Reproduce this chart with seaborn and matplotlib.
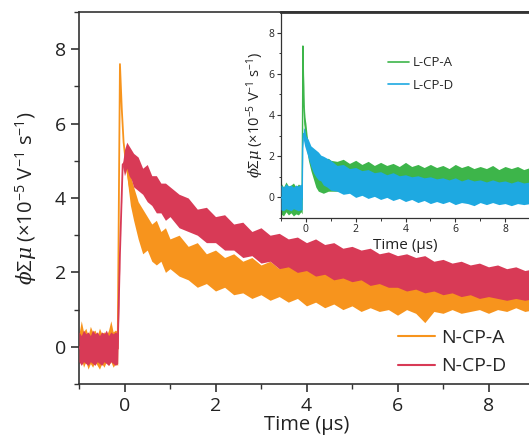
import matplotlib
matplotlib.use("Agg")
import matplotlib.pyplot as plt
import pandas as pd
import seaborn as sns
from matplotlib.ticker import MultipleLocator

# ---------------- data: upper / lower envelopes of the noisy traces ----
pre_t = [-1.00, -0.95, -0.90, -0.85, -0.80, -0.75, -0.70, -0.65, -0.60, -0.55, -0.50,
         -0.45, -0.40, -0.35, -0.30, -0.25, -0.20, -0.15]
tail_t = [0.20, 0.30, 0.40, 0.50, 0.60, 0.70, 0.80, 0.90, 1.00, 1.20, 1.40, 1.60, 1.80,
          2.00, 2.20, 2.40, 2.60, 2.80, 3.00, 3.20, 3.40, 3.60, 3.80, 4.00, 4.20, 4.40,
          4.60, 4.80, 5.00, 5.20, 5.40, 5.60, 5.80, 6.00, 6.20, 6.40, 6.60, 6.80, 7.00,
          7.20, 7.40, 7.60, 7.80, 8.00, 8.20, 8.40, 8.60, 8.80, 9.00]

# Main panel: N-CP-A (orange)
ncpa_t = pre_t + [-0.10, -0.06, -0.02, 0.03, 0.08, 0.13] + tail_t
ncpa_hi = [0.35, 0.70, 0.40, 0.50, 0.30, 0.55, 0.40, 0.45, 0.30, 0.50, 0.35, 0.40, 0.30,
           0.45, 0.70, 0.40, 0.45, 0.40,
           7.60, 6.40, 5.50, 5.10, 4.90, 4.60,
           4.30, 3.90, 3.70, 3.50, 3.30, 3.40, 3.10, 3.20, 2.90, 3.00, 2.70, 2.80, 2.50,
           2.60, 2.40, 2.50, 2.30, 2.40, 2.20, 2.30, 2.10, 2.25, 2.10, 2.15, 2.00, 2.10,
           1.95, 2.05, 1.90, 2.00, 1.85, 1.95, 1.85, 1.90, 1.80, 1.90, 1.80, 1.75, 1.85,
           1.70, 1.80, 1.70, 1.75, 1.65, 1.75, 1.60, 1.70, 1.60, 1.65]
ncpa_lo = [-0.45, -0.30, -0.55, -0.40, -0.60, -0.45, -0.55, -0.40, -0.50, -0.60, -0.45,
           -0.55, -0.40, -0.50, -0.40, -0.55, -0.45, -0.50,
           7.60, 6.40, 5.50, 4.80, 4.30, 3.80,
           3.40, 2.90, 2.50, 2.60, 2.30, 2.20, 2.30, 2.00, 2.10, 1.90, 1.80, 1.60, 1.70,
           1.50, 1.60, 1.40, 1.45, 1.30, 1.40, 1.25, 1.35, 1.20, 1.30, 1.10, 1.20, 1.05,
           1.15, 1.00, 1.10, 0.95, 1.05, 0.95, 1.00, 0.85, 1.00, 0.90, 0.65, 0.95, 0.90,
           1.00, 0.90, 0.95, 1.00, 0.90, 1.00, 0.95, 1.05, 0.95, 1.00]

# Main panel: N-CP-D (red)
ncpd_t = pre_t + [-0.10, -0.04, 0.00, 0.05, 0.10, 0.15] + tail_t
ncpd_hi = [0.40, 0.30, 0.45, 0.35, 0.40, 0.30, 0.45, 0.35, 0.40, 0.30, 0.40, 0.35, 0.45,
           0.30, 0.40, 0.35, 0.40, 0.35,
           2.50, 4.95, 5.30, 5.50, 5.40, 5.30,
           5.20, 5.10, 4.80, 4.90, 4.60, 4.60, 4.40, 4.40, 4.30, 4.10, 4.00, 3.70, 3.75,
           3.50, 3.55, 3.30, 3.35, 3.10, 3.20, 3.00, 3.05, 2.90, 2.95, 2.80, 2.90, 2.75,
           2.80, 2.65, 2.70, 2.60, 2.65, 2.50, 2.55, 2.45, 2.50, 2.40, 2.45, 2.30, 2.35,
           2.25, 2.30, 2.20, 2.25, 2.15, 2.20, 2.10, 2.15, 2.05, 2.10]
ncpd_lo = [-0.40, -0.50, -0.40, -0.45, -0.50, -0.40, -0.45, -0.50, -0.40, -0.45, -0.50,
           -0.40, -0.45, -0.50, -0.40, -0.45, -0.50, -0.45,
           2.50, 4.85, 4.60, 4.80, 4.60, 4.50,
           4.30, 4.20, 4.10, 3.90, 3.80, 3.60, 3.60, 3.40, 3.50, 3.20, 3.10, 3.00, 2.80,
           2.80, 2.60, 2.60, 2.40, 2.45, 2.25, 2.30, 2.10, 2.15, 2.00, 2.05, 1.90, 1.95,
           1.80, 1.85, 1.75, 1.80, 1.65, 1.70, 1.60, 1.60, 1.50, 1.55, 1.45, 1.50, 1.40,
           1.45, 1.35, 1.40, 1.30, 1.35, 1.30, 1.25, 1.30, 1.25, 1.30]

in_pre_t = [-1.00, -0.90, -0.80, -0.70, -0.60, -0.50, -0.40, -0.30, -0.20, -0.15]
in_tail_t = [1.00, 1.25, 1.50, 1.75, 2.00, 2.25, 2.50, 2.75, 3.00, 3.25, 3.50, 3.75,
             4.00, 4.25, 4.50, 4.75, 5.00, 5.25, 5.50, 5.75, 6.00, 6.25, 6.50, 6.75,
             7.00, 7.25, 7.50, 7.75, 8.00, 8.25, 8.50, 8.75, 9.00]

# Inset: L-CP-A (green)
lcpa_t = in_pre_t + [-0.12, -0.08, -0.04, 0.00, 0.05, 0.10, 0.20, 0.30, 0.40, 0.50,
                     0.70, 0.90] + in_tail_t
lcpa_hi = [0.70, 0.50, 0.75, 0.55, 0.60, 0.70, 0.50, 0.65, 0.55, 0.60,
           7.35, 5.00, 3.90, 3.60, 3.00, 2.60, 2.20, 2.00, 1.90, 1.85, 1.80, 1.90,
           1.80, 1.75, 1.85, 1.65, 1.80, 1.60, 1.75, 1.55, 1.70, 1.55, 1.65, 1.50,
           1.70, 1.50, 1.60, 1.45, 1.60, 1.45, 1.55, 1.40, 1.60, 1.45, 1.55, 1.40,
           1.50, 1.40, 1.55, 1.35, 1.50, 1.40, 1.50, 1.35, 1.45]
lcpa_lo = [-0.80, -0.90, -0.70, -0.85, -0.75, -0.90, -0.80, -0.85, -0.70, -0.80,
           7.35, 4.00, 3.20, 2.80, 2.20, 1.80, 1.30, 0.90, 0.50, 0.30, 0.20, 0.30,
           0.30, 0.30, 0.30, 0.30, 0.30, 0.30, 0.30, 0.30, 0.30, 0.30, 0.30, 0.30,
           0.30, 0.30, 0.30, 0.30, 0.30, 0.30, 0.30, 0.30, 0.30, 0.30, 0.30, 0.30,
           0.30, 0.30, 0.30, 0.30, 0.30, 0.30, 0.30, 0.30, 0.30]

# Inset: L-CP-D (blue)
lcpd_t = in_pre_t + [-0.13, -0.10, -0.05, 0.00, 0.10, 0.20, 0.30, 0.40, 0.50, 0.60,
                     0.70, 0.85] + in_tail_t
lcpd_hi = [0.60, 0.50, 0.65, 0.55, 0.60, 0.50, 0.60, 0.55, 0.65, 0.55,
           2.40, 3.40, 3.30, 3.00, 2.80, 2.50, 2.40, 2.30, 2.20, 2.05, 2.00, 1.90,
           1.80, 1.55, 1.60, 1.40, 1.45, 1.30, 1.35, 1.20, 1.25, 1.10, 1.20, 1.05,
           1.10, 1.00, 1.05, 0.95, 1.00, 0.90, 0.95, 0.85, 0.95, 0.80, 0.90, 0.80,
           0.85, 0.75, 0.85, 0.75, 0.80, 0.70, 0.80, 0.70, 0.75]
lcpd_lo = [-0.60, -0.65, -0.55, -0.60, -0.65, -0.55, -0.60, -0.65, -0.60, -0.60,
           2.40, 2.80, 2.50, 2.30, 1.90, 1.50, 1.20, 1.00, 0.85, 0.80, 0.60, 0.50,
           0.35, 0.30, 0.15, 0.20, 0.00, 0.10, -0.05, 0.05, -0.10, 0.00, -0.15, -0.05,
           -0.20, -0.10, -0.25, -0.15, -0.30, -0.20, -0.30, -0.20, -0.35, -0.25, -0.30,
           -0.40, -0.25, -0.35, -0.25, -0.35, -0.30, -0.40, -0.30, -0.35, -0.30]

main_names = ["N-CP-A", "N-CP-D"]
main_colors = ["#F7941D", "#D83A56"]
inset_names = ["L-CP-A", "L-CP-D"]
inset_colors = ["#3DB54A", "#1EA9E1"]
ylabel_txt = r"$\mathit{\phi\Sigma\mu}$ (×10$^{-5}$ V$^{-1}$ s$^{-1}$)"
xlabel_txt = "Time (μs)"


def band_frame(t, hi, lo, name):
    return pd.DataFrame({"t": list(t) + list(t), "v": list(hi) + list(lo), "series": name})


main_df = pd.concat([band_frame(ncpa_t, ncpa_hi, ncpa_lo, main_names[0]),
                     band_frame(ncpd_t, ncpd_hi, ncpd_lo, main_names[1])], ignore_index=True)
inset_df = pd.concat([band_frame(lcpa_t, lcpa_hi, lcpa_lo, inset_names[0]),
                      band_frame(lcpd_t, lcpd_hi, lcpd_lo, inset_names[1])], ignore_index=True)

# ---------------- style -------------
sns.set_style("ticks")
plt.rcParams["font.family"] = ["Open Sans", "DejaVu Sans"]
plt.rcParams["mathtext.fontset"] = "custom"
plt.rcParams["mathtext.rm"] = "Open Sans"
plt.rcParams["mathtext.it"] = "DejaVu Serif:italic"
plt.rcParams["axes.edgecolor"] = "#333333"
plt.rcParams["xtick.color"] = "#333333"
plt.rcParams["ytick.color"] = "#333333"

W, H = 529, 436
fig = plt.figure(figsize=(W / 100, H / 100), dpi=100)


def layer(axis):
    # keep each series' line and band together so later series cover earlier ones
    for i, (ln, coll) in enumerate(zip(axis.lines, axis.collections)):
        coll.set_zorder(1 + 2 * i)
        ln.set_zorder(2 + 2 * i)


def style_ticks(axis):
    axis.xaxis.set_major_locator(MultipleLocator(2))
    axis.xaxis.set_minor_locator(MultipleLocator(1))
    axis.yaxis.set_major_locator(MultipleLocator(2))
    axis.yaxis.set_minor_locator(MultipleLocator(1))


# main axes: left spine at x=79 px, top 12 px, bottom 384 px, 45.5 px per µs
ax = fig.add_axes([79 / W, (H - 384) / H, 455 / W, 372 / H])
sns.lineplot(data=main_df, x="t", y="v", hue="series", hue_order=main_names,
             palette=main_colors, estimator="mean", errorbar=("pi", 100),
             err_kws={"alpha": 1, "linewidth": 0}, linewidth=1.3, ax=ax)
layer(ax)
ax.set_xlim(-1, 9)
ax.set_ylim(-1, 9)
style_ticks(ax)
ax.tick_params(which="major", direction="out", length=6, width=1.2, labelsize=14,
               labelcolor="#222222")
ax.tick_params(which="minor", direction="out", length=3.5, width=1.0)
for s in ax.spines.values():
    s.set_linewidth(1.2)
ax.spines["right"].set_visible(False)
ax.set_xlabel(xlabel_txt, fontsize=14.5, color="#222222", labelpad=-0.5)
ax.set_ylabel(ylabel_txt, fontsize=14.5, color="#222222", labelpad=11)
sns.move_legend(ax, loc="center left", bbox_to_anchor=(398 / W, 1 - 352 / H),
                bbox_transform=fig.transFigure, frameon=False, title=None,
                fontsize=14, handlelength=1.9, handletextpad=0.3, labelspacing=0.55,
                borderpad=0, borderaxespad=0)
for line in ax.get_legend().get_lines():
    line.set_linewidth(1.5)

# inset axes: left 281 px, top 12 px, bottom 218 px, 24.9 px per µs
axi = fig.add_axes([281 / W, (H - 218) / H, 249 / W, 206 / H])
axi.set_facecolor("white")
sns.lineplot(data=inset_df, x="t", y="v", hue="series", hue_order=inset_names,
             palette=inset_colors, estimator="mean", errorbar=("pi", 100),
             err_kws={"alpha": 1, "linewidth": 0}, linewidth=1.0, ax=axi)
layer(axi)
axi.set_xlim(-1, 9)
axi.set_ylim(-1, 9)
style_ticks(axi)
axi.tick_params(which="major", direction="out", length=3, width=0.8, labelsize=7.5,
                pad=1.5, labelcolor="#222222")
axi.tick_params(which="minor", direction="out", length=1.8, width=0.7)
for s in axi.spines.values():
    s.set_linewidth(0.9)
axi.spines["top"].set_linewidth(2.0)
axi.spines["right"].set_visible(False)
axi.set_xlabel(xlabel_txt, fontsize=11, color="#222222", labelpad=2)
axi.set_ylabel(ylabel_txt, fontsize=10.5, color="#222222", labelpad=2)
sns.move_legend(axi, loc="center left", bbox_to_anchor=(388 / W, 1 - 74 / H),
                bbox_transform=fig.transFigure, frameon=False, title=None,
                fontsize=9.5, handlelength=1.6, handletextpad=0.3, labelspacing=0.7,
                borderpad=0, borderaxespad=0)
for line in axi.get_legend().get_lines():
    line.set_linewidth(1.2)

fig.savefig("out.png", dpi=100)
